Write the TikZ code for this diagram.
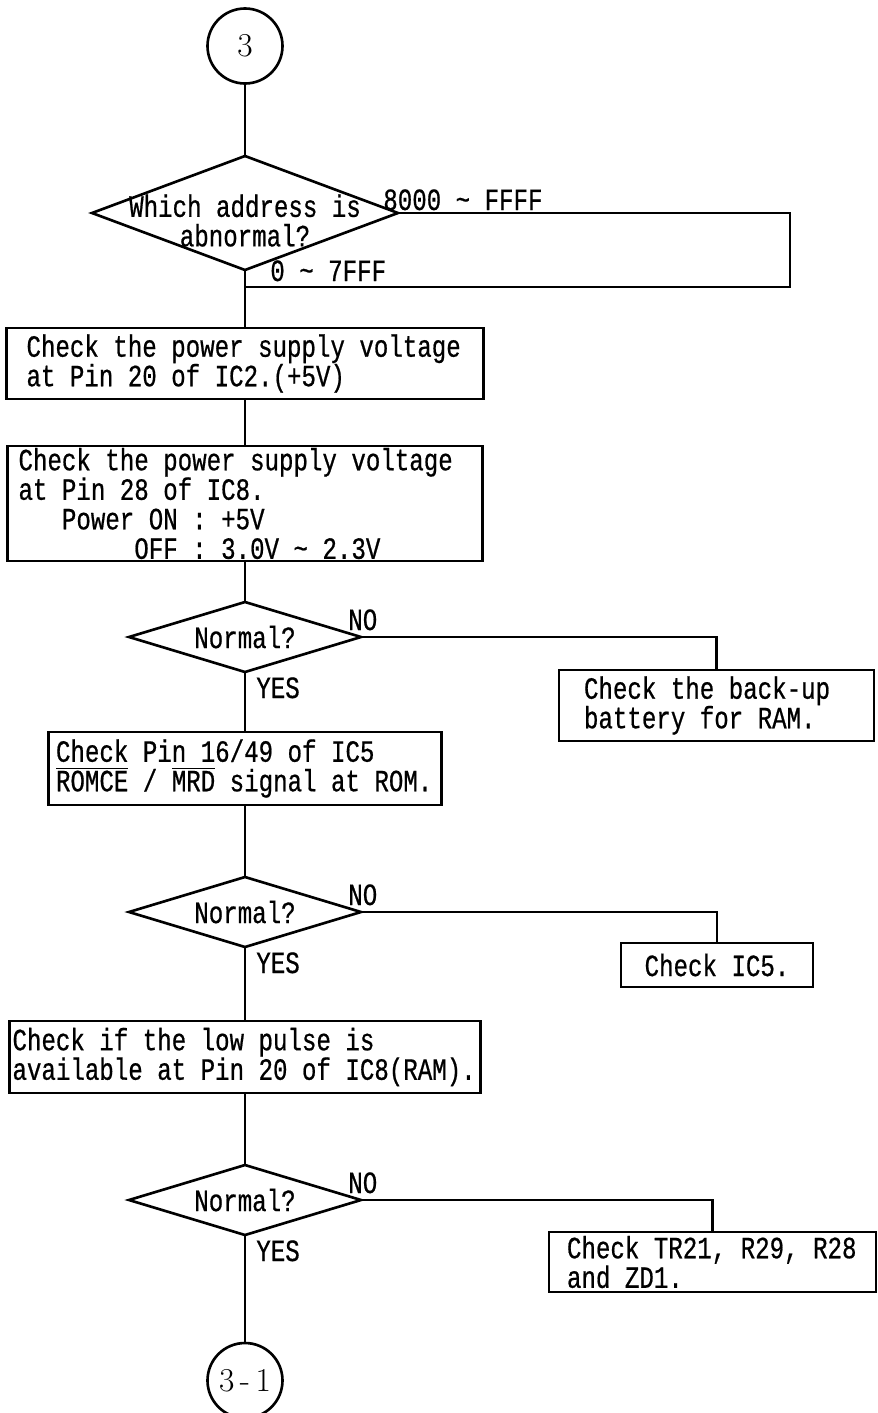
\documentclass[tikz,border=0pt]{standalone}
\usepackage{fontspec}
\usepackage{tikz}
\usetikzlibrary{positioning,shapes.geometric}
\newfontfamily\manualfont[FakeStretch=0.78,FakeBold=0.6]{Liberation Mono}
\newcommand{\chartfont}{\manualfont\fontsize{17.6pt}{16.8pt}\selectfont
  \spaceskip=\fontcharwd\font`\x\relax\frenchspacing}
\tikzset{
  offpage/.style={draw,circle,minimum size=1.5cm,inner sep=0pt,outer sep=0pt,
    font=\fontsize{19pt}{22pt}\selectfont},
  decision/.style={draw,diamond,aspect=3,inner sep=0pt,outer sep=0pt,minimum width=4.64cm,
    minimum height=1.4cm,align=flush center,font=\chartfont},
  checkbox/.style={draw,rectangle,align=flush left,inner ysep=0.08cm,outer sep=0pt,font=\chartfont},
  sidebox/.style={checkbox},
  answer/.style={inner sep=0pt,font=\chartfont},
  noword/.style={answer,anchor=base west,xshift=-0.28cm,yshift=0.14cm},
  yesword/.style={answer,anchor=north west,xshift=0.2cm,yshift=-0.08cm}
}

\begin{document}
\begin{tikzpicture}[line width=1.5pt]
\useasboundingbox (0,0) rectangle (17.54,-28.26);
\node[offpage] (c3) at (4.9,-0.92) {3};
\node[decision,below=1.45cm of c3,minimum width=6.12cm,minimum height=2.28cm,inner xsep=-1.6cm,aspect=2.7] (q1) {\rule{0pt}{0.75cm}Which address is\\abnormal?};
\node[checkbox,below=1.16cm of q1,text width=8.74cm,inner xsep=0.4cm,minimum height=1.42cm] (b1) {Check the power supply voltage\\at Pin 20 of IC2.(+5V)};
\node[checkbox,below=0.94cm of b1,text width=9.06cm,inner xsep=0.22cm,inner ysep=0.02cm,minimum height=2.3cm] (b2) {Check the power supply voltage\\at Pin 28 of IC8.\\\phantom{xxx}Power ON : +5V\\\phantom{xxxxxxxx}OFF : 3.0V \textasciitilde{} 2.3V};
\node[decision,below=0.82cm of b2] (q2) {Normal?};
\node[checkbox,below=1.2cm of q2,text width=7.56cm,inner xsep=0.15cm,minimum height=1.46cm] (b3) {Check Pin 16/49 of IC5\\$\overline{\mbox{ROMCE}}$ / $\overline{\mbox{MRD}}$ signal at ROM.};
\node[decision,below=1.44cm of b3] (q3) {Normal?};
\node[checkbox,below=1.48cm of q3,text width=9.3cm,inner xsep=0.06cm,minimum height=1.44cm] (b4) {Check if the low pulse is\\available at Pin 20 of IC8(RAM).};
\node[decision,below=1.44cm of b4] (q4) {Normal?};
\node[offpage,below=2.16cm of q4] (c31) {3\,-\,1};
% right hand branches
\node[sidebox,right=3.96cm of q2,yshift=-1.37cm,text width=5.3cm,inner xsep=0.5cm,minimum height=1.42cm] (n2) {Check the back-up\\battery for RAM.};
\node[sidebox,right=5.2cm of q3,yshift=-1.06cm,text width=2.9cm,inner xsep=0.47cm,minimum height=0.88cm,align=flush center] (n3) {Check IC5.};
\node[sidebox,right=3.76cm of q4,yshift=-1.24cm,text width=5.82cm,inner xsep=0.36cm,minimum height=1.16cm] (n4) {Check TR21, R29, R28\\and ZD1.};
\coordinate[below=0.34cm of q1] (j1);
\coordinate[right=7.84cm of q1.east] (r1);
\draw (c3) -- (q1);
\draw (q1.east) -- node[answer,at start,anchor=base west,xshift=-0.32cm,yshift=0.06cm]{8000 \textasciitilde{} FFFF} (r1) |- (j1);
\draw (q1) -- node[answer,at start,anchor=base west,xshift=0.48cm,yshift=-0.22cm]{0 \textasciitilde{} 7FFF} (b1);
\draw (b1) -- (b2);
\draw (b2) -- (q2);
\draw (q2) -- node[yesword,at start]{YES} (b3);
\draw (q2.east) -| node[noword,at start]{NO} (n2.north);
\draw (b3) -- (q3);
\draw (q3) -- node[yesword,at start]{YES} (b4);
\draw (q3.east) -| node[noword,at start]{NO} (n3.north);
\draw (b4) -- (q4);
\draw (q4) -- node[yesword,at start]{YES} (c31);
\draw (q4.east) -| node[noword,at start]{NO} (n4.north);
\end{tikzpicture}
\end{document}
